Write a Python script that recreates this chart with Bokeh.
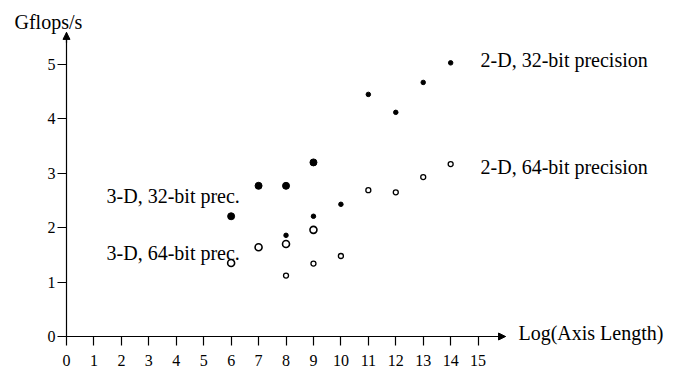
from bokeh.plotting import figure
from bokeh.models import Range1d, FixedTicker, Label, Arrow, NormalHead, LinearAxis
from bokeh.embed import file_html
from bokeh.resources import INLINE

# Data
x_3d = [6, 7, 8, 9]
gf_3d_32 = [2.21, 2.77, 2.77, 3.20]
gf_3d_64 = [1.35, 1.64, 1.70, 1.96]
x_2d = [8, 9, 10, 11, 12, 13, 14]
gf_2d_32 = [1.86, 2.21, 2.43, 4.45, 4.12, 4.67, 5.03]
gf_2d_64 = [1.12, 1.34, 1.48, 2.69, 2.65, 2.93, 3.17]
x_ticks = list(range(0, 16))
y_ticks = [0, 1, 2, 3, 4, 5]

FONT = "Liberation Serif"

# frame covers the whole canvas; axes are drawn at fixed data locations
p = figure(width=678, height=373, output_backend="svg", toolbar_location=None,
           x_range=Range1d(-2.405, 22.303), y_range=Range1d(-0.680, 6.176),
           min_border=0, x_axis_location=None, y_axis_location=None)
p.xgrid.visible = False
p.ygrid.visible = False
p.outline_line_color = None
p.background_fill_color = "white"
p.border_fill_color = "white"

xaxis = LinearAxis(fixed_location=0, bounds=(0, 16), ticker=FixedTicker(ticks=x_ticks))
yaxis = LinearAxis(fixed_location=0, bounds=(0, 5.59), ticker=FixedTicker(ticks=y_ticks))
for ax in (xaxis, yaxis):
    ax.axis_line_color = "black"
    ax.axis_line_width = 1.2
    ax.major_tick_line_color = "black"
    ax.major_tick_line_width = 1.2
    ax.minor_tick_line_color = None
    ax.major_tick_in = 0
    ax.major_tick_out = 9
    ax.major_label_text_font = FONT
    ax.major_label_text_font_size = "16px"
    ax.major_label_text_color = "black"
xaxis.major_label_standoff = 9
yaxis.major_label_standoff = 2
p.add_layout(xaxis, "below")
p.add_layout(yaxis, "left")

# axis arrows
p.add_layout(Arrow(end=NormalHead(size=7, fill_color="black", line_color="black"),
                   x_start=15.7, y_start=0, x_end=16, y_end=0, line_width=1.2))
p.add_layout(Arrow(end=NormalHead(size=7, fill_color="black", line_color="black"),
                   x_start=0, y_start=5.4, x_end=0, y_end=5.59, line_width=1.2))

# data points
p.scatter(x_3d, gf_3d_32, marker="circle", size=7, fill_color="black", line_color="black")
p.scatter(x_2d, gf_2d_32, marker="circle", size=4.5, fill_color="black", line_color="black")
p.scatter(x_3d, gf_3d_64, marker="circle", size=7, fill_color="white", line_color="black", line_width=1.6)
p.scatter(x_2d, gf_2d_64, marker="circle", size=5, fill_color="white", line_color="black", line_width=1.3)

def lab(text, x, y, align="left", size="20px"):
    p.add_layout(Label(x=x, y=y, text=text, text_font=FONT, text_font_size=size,
                       text_align=align, text_baseline="middle", text_color="black"))

lab("Gflops/s", -0.66, 5.79, align="center")
lab("Log(Axis Length)", 16.47, 0.07)
lab("2-D, 32-bit precision", 15.09, 5.09)
lab("2-D, 64-bit precision", 15.09, 3.11)
lab("3-D, 32-bit prec.", 1.46, 2.59)
lab("3-D, 64-bit prec.", 1.46, 1.54)

open("out.html", "w").write(file_html(p, INLINE))
